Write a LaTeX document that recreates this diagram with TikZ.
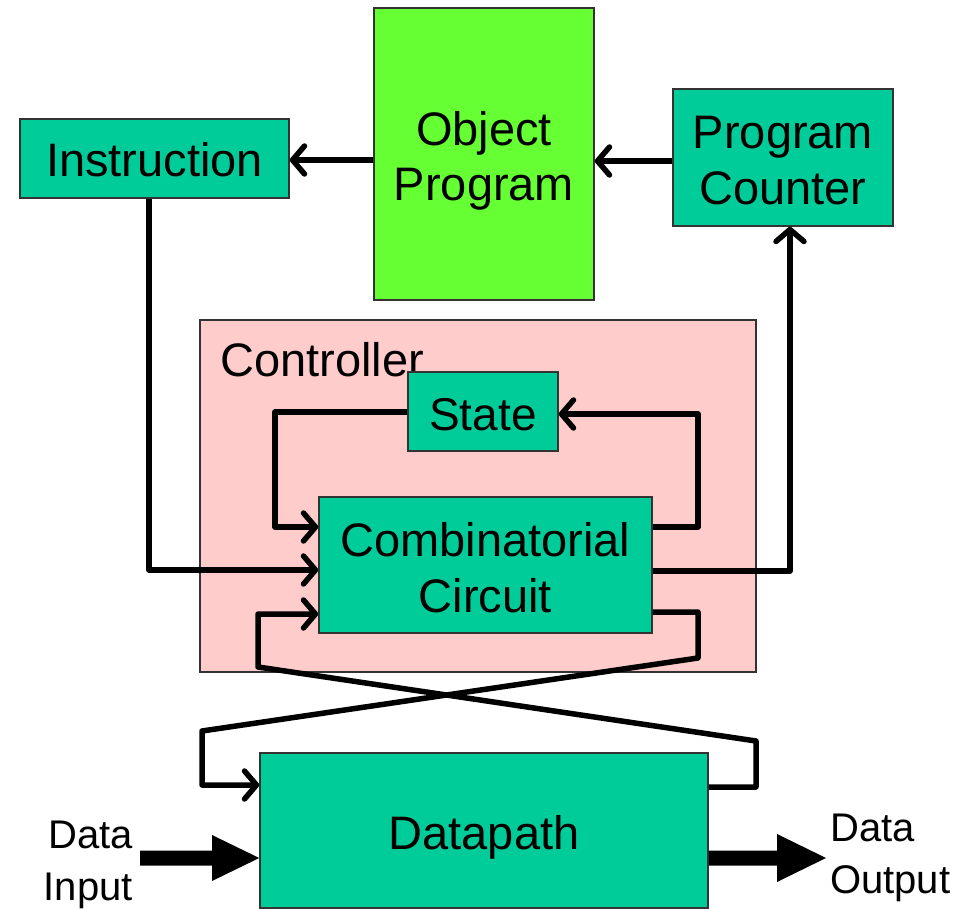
\documentclass[tikz,border=0pt]{standalone}
\usepackage{fontspec}
\setmainfont{Liberation Sans}
\usetikzlibrary{arrows.meta,calc}
\definecolor{teal1}{HTML}{00CC99}
\definecolor{lime1}{HTML}{66FF33}
\definecolor{pink1}{HTML}{FFCCCC}
\newcommand{\tstrut}[1]{\rule{0pt}{#1}}
\begin{document}
\begin{tikzpicture}[x=1pt,y=-1pt,
 box/.style={draw=black!80,line width=1.5pt,fill=teal1,inner sep=0pt,align=center,font=\fontsize{47}{56}\selectfont},
 conn/.style={line width=5.5pt,line join=round,-{Straight Barb[round,length=12pt,width=28pt]}},
 lbl/.style={inner sep=0pt,font=\fontsize{40}{52}\selectfont}]
\useasboundingbox (0,0) rectangle (962,909);
\node[draw=black!80,line width=1.5pt,fill=pink1,minimum width=556pt,minimum height=352pt,inner sep=0pt] (ctrl) at (478,496) {};
\node[anchor=base west,inner sep=0pt,font=\fontsize{47}{56}\selectfont] (ctrllabel) at (220,377) {Controller};
\node[box,minimum width=269pt,minimum height=79pt] (instr) at (154.5,158.5) {\tstrut{37pt}Instruction};
\node[box,fill=lime1,minimum width=220pt,minimum height=292pt,font=\fontsize{47}{55}\selectfont] (obj) at (484,154) {\tstrut{47pt}Object\\Program};
\node[box,minimum width=220pt,minimum height=137pt] (pc) at (783,157.5) {\tstrut{39pt}Program\\Counter};
\node[box,minimum width=150pt,minimum height=79pt,font=\fontsize{46}{54}\selectfont] (state) at (483,411.5) {\tstrut{38pt}State};
\node[box,minimum width=333pt,minimum height=136pt] (cc) at (485.5,565) {\tstrut{39pt}Combinatorial\\Circuit};
\node[box,minimum width=448pt,minimum height=155pt] (dp) at (484,830.5) {\tstrut{48pt}Datapath};
\node[lbl,anchor=east,align=right] (din) at (133,864.5) {Data\\Input};
\node[lbl,anchor=west,align=left] (dout) at (830,857.5) {Data\\Output};
% connectors
\draw[conn] (obj.west |- 0,160) -- (instr.east |- 0,160);
\draw[conn] (pc.west |- 0,161) -- (obj.east |- 0,161);
\draw[conn] (instr.south -| 149,0) -- (149,570) -- (cc.west |- 0,570);
\draw[conn] (state.west |- 0,412) -- (275,412) -- (275,527) -- (cc.west |- 0,527);
\draw[conn] (cc.east |- 0,527) -- (698,527) -- (698,414) -- (state.east |- 0,414);
\draw[conn] (cc.east |- 0,571) -- (790,571) -- (pc.south -| 790,0);
\draw[conn] (cc.east |- 0,612) -- (698,612) -- (698,658) -- (202,731) -- (202,785) -- (dp.west |- 0,785);
\draw[conn] (dp.east |- 0,787) -- (756,787) -- (756,741) -- (258,667) -- (258,614) -- (cc.west |- 0,614);
% thick data arrows
\fill (140,850.5) -- (212,850.5) -- (212,835) -- (dp.west |- 0,858) -- (212,881) -- (212,865.5) -- (140,865.5) -- cycle;
\fill (dp.east |- 0,850.5) -- (777,850.5) -- (777,834) -- (826,858) -- (777,882) -- (777,865.5) -- (dp.east |- 0,865.5) -- cycle;
\end{tikzpicture}
\end{document}
